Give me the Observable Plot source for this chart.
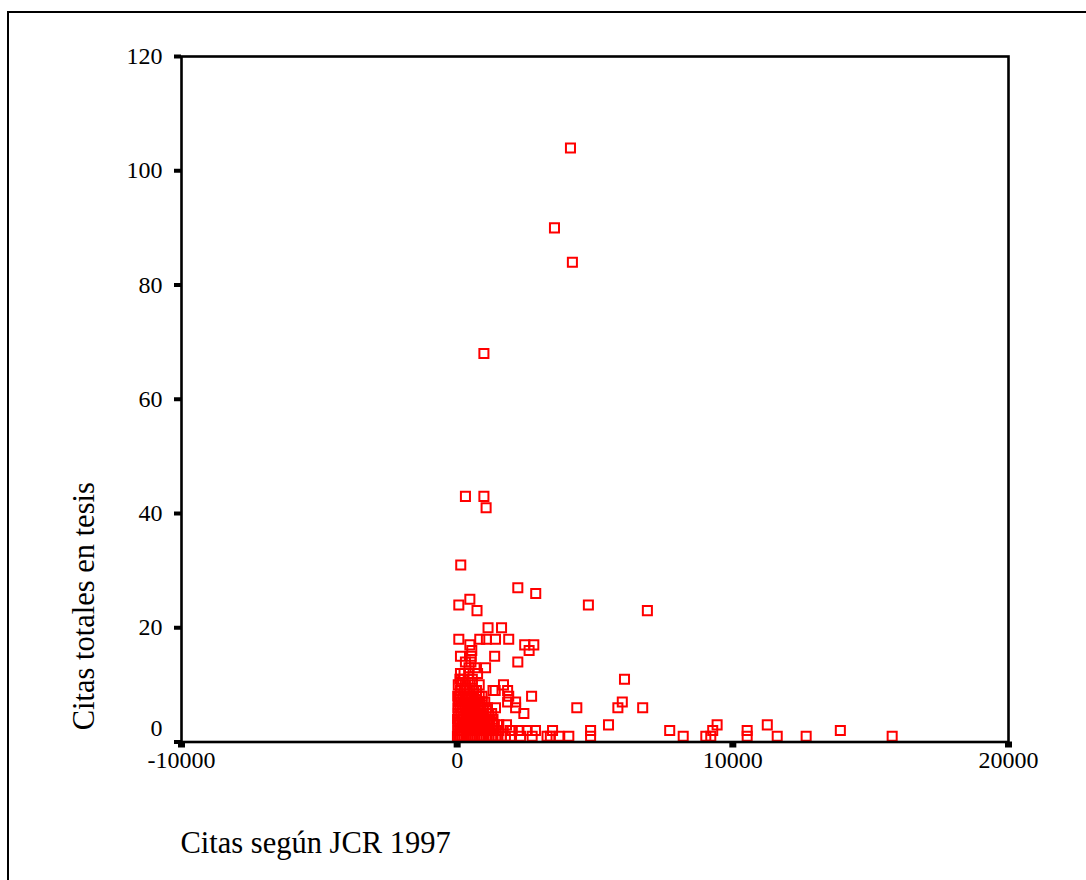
<!DOCTYPE html>
<html>
<head>
<meta charset="utf-8">
<script src="https://cdn.jsdelivr.net/npm/d3@7"></script>
<script src="https://cdn.jsdelivr.net/npm/@observablehq/plot@0.6"></script>
<style>
  html, body { margin: 0; padding: 0; background: #fff; overflow: hidden; }
  #page { position: relative; width: 1086px; height: 880px; }
  #border {
    position: absolute; left: 7px; top: 11px; width: 1200px; height: 1000px;
    border-left: 2px solid #000; border-top: 2px solid #000;
  }
  #chart { position: absolute; left: 0; top: 0; }
</style>
</head>
<body>
<div id="page">
  <div id="border"></div>
  <div id="chart"></div>
</div>
<script>
// Axis ticks
const xTicks = [-10000, 0, 10000, 20000];
const yTicks = [0, 20, 40, 60, 80, 100, 120];

// Axis titles
const xTitle = "Citas según JCR 1997";
const yTitle = "Citas totales en tesis";

// One entry per journal: citations in JCR 1997 (x) and total citations in the theses (y)
const jcrCitas = [
  4110, 3530, 4180, 970,
  300, 970, 1050, 130,
  2200, 2850, 460, 60, 4760, 720, 6900,
  1120, 1610,
  60, 820, 1060, 1390, 1870,
  460, 2450, 2780,
  530, 2610,
  120, 510, 1360,
  2200,
  430, 650, 1030,
  120, 420, 740,
  6070, 400,
  1680,
  120, 450, 1300, 1380, 1830,
  60, 2700, 1870,
  1830, 2120, 910, 600, 5990,
  4340, 5830, 6730, 1390, 2120,
  2420, 1150,
  1790, 1090, 1510, 5490, 9430, 11250,
  1150, 1510, 2000, 2240, 2540, 2840, 3460, 7710, 9270, 13900, 4840, 10520, 1930,
  1930, 2300, 2720, 3260, 3380, 3690, 4050, 4840, 8200, 9020, 9200, 10520, 11610, 12660, 15780,
  // low-citation journals near the origin
  10, 60, 120, 190, 260, 330, 400, 480, 560, 640, 720, 800, 880, 960, 1050, 1150, 1250, 1400, 1600, 1750, 1300, 1480,
  20, 90, 160, 240, 320, 410, 500, 590, 680, 770, 860, 950, 1060, 1200, 1320, 1100, 1260, 1400,
  30, 110, 200, 290, 380, 470, 560, 650, 740, 830, 920, 1280, 1000, 1150, 1350,
  15, 80, 170, 260, 350, 440, 530, 620, 710, 800, 900, 1180, 1000, 1100, 1300,
  40, 130, 220, 310, 400, 490, 580, 680, 780, 870, 950, 1050, 1250,
  25, 100, 190, 280, 370, 460, 560, 650, 760, 850, 950, 1100,
  50, 140, 240, 340, 440, 540, 640, 740, 820, 1000,
  20, 110, 200, 300, 420, 520, 700, 800, 900,
  250, 600, 350, 700,
  40, 300, 800, 150, 550,
  200, 550, 100,
  250,
  300, 500
];
const tesisCitas = [
  104, 90, 84, 68,
  43, 43, 41, 31,
  27, 26, 25, 24, 24, 23, 23,
  20, 20,
  18, 18, 18, 18, 18,
  17, 17, 17,
  16, 16,
  15, 15, 15,
  14,
  13, 13, 13,
  12, 12, 12,
  11, 11,
  10,
  9, 9, 9, 9, 9,
  8, 8, 8,
  7, 7, 7, 7, 7,
  6, 6, 6, 6, 6,
  5, 5,
  3, 3, 3, 3, 3, 3,
  2, 2, 2, 2, 2, 2, 2, 2, 2, 2, 2, 2, 2,
  1, 1, 1, 1, 1, 1, 1, 1, 1, 1, 1, 1, 1, 1, 1,
  1, 1, 1, 1, 1, 1, 1, 1, 1, 1, 1, 1, 1, 1, 1, 1, 1, 1, 1, 1, 1, 1,
  2, 2, 2, 2, 2, 2, 2, 2, 2, 2, 2, 2, 2, 2, 2, 2, 2, 2,
  3, 3, 3, 3, 3, 3, 3, 3, 3, 3, 3, 3, 3, 3, 3,
  4, 4, 4, 4, 4, 4, 4, 4, 4, 4, 4, 4, 4, 4, 4,
  5, 5, 5, 5, 5, 5, 5, 5, 5, 5, 5, 5, 5,
  6, 6, 6, 6, 6, 6, 6, 6, 6, 6, 6, 6,
  7, 7, 7, 7, 7, 7, 7, 7, 7, 7,
  8, 8, 8, 8, 8, 8, 8, 8, 8,
  9, 9, 9, 9,
  10, 10, 10, 10, 10,
  11, 11, 11,
  12,
  14, 14
];

const journals = jcrCitas.map((x, i) => ({jcr: x, tesis: tesisCitas[i]}));

const serif = "'Liberation Serif', 'Times New Roman', 'DejaVu Serif', serif";

const chart = Plot.plot({
  width: 1086,
  height: 880,
  marginLeft: 181,
  marginRight: 78,
  marginTop: 56,
  marginBottom: 138.5,
  style: {fontFamily: serif, fontSize: "24px", color: "#000", background: "transparent", overflow: "visible"},
  x: {domain: [-10000, 20000], label: null},
  y: {domain: [0, 120], label: null},
  marks: [
    Plot.dot(journals, {
      x: "jcr", y: "tesis", symbol: "square", r: 5.1,
      stroke: "#ff0000", strokeWidth: 2, fill: "none"
    }),
    Plot.frame({stroke: "#000", strokeWidth: 2.6}),
    Plot.axisX({
      ticks: xTicks, tickFormat: d => String(d), tickSize: 6, tickPadding: 3,
      strokeWidth: 7, fontSize: 24, label: null
    }),
    Plot.axisY({
      ticks: yTicks, tickFormat: d => (d === 0 ? "" : String(d)), tickSize: 7, tickPadding: 12,
      strokeWidth: 4, fontSize: 24, label: null
    }),
    // the zero label sits a little above its tick
    Plot.text(["0"], {
      y: [0], frameAnchor: "left", textAnchor: "end", dx: -19, dy: -14, fontSize: 24
    }),
    Plot.text([yTitle], {
      frameAnchor: "left", textAnchor: "middle", lineAnchor: "middle",
      rotate: -90, dx: -97, dy: 207, fontSize: 30.5
    }),
    Plot.text([xTitle], {
      frameAnchor: "bottom-left", textAnchor: "start", lineAnchor: "middle",
      dx: -1, dy: 101, fontSize: 30.5
    })
  ]
});

document.getElementById("chart").appendChild(chart);
</script>
</body>
</html>
